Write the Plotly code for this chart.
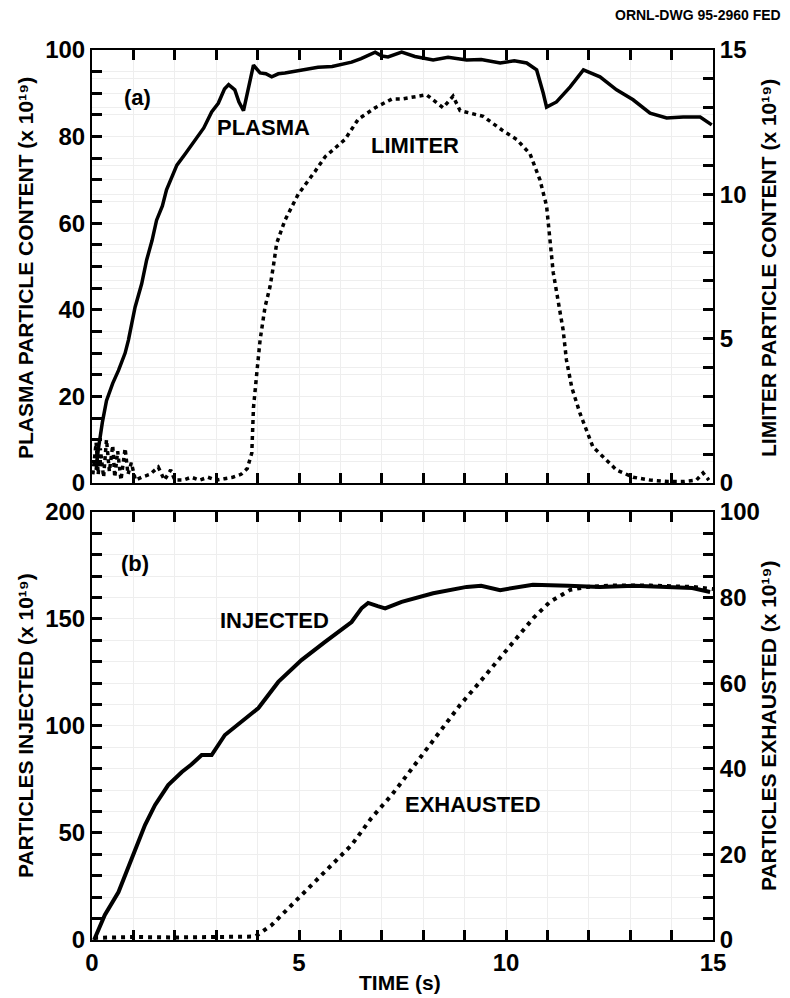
import plotly.graph_objects as go

# ---------------- data ----------------
plasma_t = [0.1, 0.15, 0.25, 0.35, 0.5, 0.64, 0.8, 0.88, 1.04, 1.2, 1.32, 1.45, 1.56, 1.7, 1.8, 1.95,
            2.05, 2.25, 2.4, 2.56, 2.7, 2.89, 3.05, 3.2, 3.3, 3.45, 3.55, 3.66, 3.8, 3.9, 4.06, 4.2,
            4.34, 4.5, 4.66, 5.0, 5.46, 5.8, 6.27, 6.5, 6.84, 7.0, 7.15, 7.48, 7.8, 8.24, 8.6, 9.05,
            9.4, 9.86, 10.2, 10.5, 10.74, 10.9, 10.98, 11.22, 11.55, 11.87, 12.27, 12.67, 13.07,
            13.48, 13.88, 14.28, 14.69, 14.97]
plasma_v = [3, 7.6, 14, 19, 23, 26, 30, 33, 40.6, 46, 51.5, 56, 60.7, 64, 67.7, 71,
            73.4, 76, 78, 80, 82, 85.7, 87.7, 91, 92, 90.8, 88, 86, 92, 96.5, 94.7, 94.5,
            93.8, 94.5, 94.7, 95.3, 96, 96.2, 97.2, 98, 99.5, 98.6, 98.4, 99.5, 98.5, 97.7, 98.3, 97.7,
            97.8, 97, 97.5, 97, 95.4, 90, 86.8, 88, 91.5, 95.4, 93.8, 90.8, 88.5,
            85.4, 84.3, 84.5, 84.5, 82.7]

limiter_t = [0.02, 0.1, 0.15, 0.2, 0.28, 0.35, 0.42, 0.5, 0.55, 0.62, 0.7, 0.8, 0.87, 0.95, 1.05,
             1.2, 1.4, 1.6, 1.75, 1.9, 2.0, 2.2, 2.4, 2.6, 2.8, 3.0, 3.2, 3.4, 3.6, 3.75, 3.86,
             3.9, 3.98, 4.06, 4.18, 4.3, 4.38, 4.46, 4.66, 4.98, 5.39, 5.63, 6.11, 6.43, 6.84,
             7.24, 7.48, 8.08, 8.48, 8.72, 8.89, 9.45, 9.93, 10.26, 10.58, 10.82, 10.98, 11.06,
             11.14, 11.26, 11.38, 11.46, 11.59, 11.79, 12.1, 12.35, 12.67, 13.07, 13.48, 13.9,
             14.3, 14.6, 14.76, 14.9]
limiter_v = [0.3, 1.4, 0.3, 1.2, 0.2, 1.5, 0.4, 1.3, 0.2, 1.1, 0.1, 1.2, 0.3, 0.7, 0.1,
             0.2, 0.3, 0.55, 0.1, 0.45, 0.1, 0.1, 0.2, 0.1, 0.2, 0.1, 0.15, 0.2, 0.3, 0.5, 1.04,
             2.6, 3.8, 4.95, 6.1, 6.8, 7.5, 8.3, 9.1, 10.0, 10.8, 11.3, 11.9, 12.6, 13.0,
             13.3, 13.3, 13.45, 13.0, 13.4, 12.9, 12.7, 12.2, 11.9, 11.4, 10.5, 9.6, 8.4,
             7.3, 6.3, 5.3, 4.26, 3.3, 2.4, 1.25, 0.9, 0.45, 0.2, 0.1, 0.05,
             0.05, 0.1, 0.35, 0.1]

injected_t = [0.05, 0.31, 0.64, 0.96, 1.28, 1.52, 1.84, 2.17, 2.4, 2.65, 2.89, 3.21, 3.61, 4.02,
              4.5, 5.06, 5.63, 6.27, 6.51, 6.67, 6.9, 7.08, 7.48, 8.24, 9.05, 9.4, 9.86, 10.65,
              11.5, 12.27, 13.1, 13.88, 14.5, 14.93]
injected_v = [0, 11.7, 22.4, 38, 53.7, 63, 72.4, 78.5, 82, 86.4, 86.4, 95.8, 101.9, 108.4,
              120.6, 130.8, 139.3, 148.6, 155, 157.5, 156, 155, 158, 162, 165, 165.5, 163.5, 166,
              165.5, 165, 165.5, 165, 164.5, 162.6]

exhausted_t = [0.05, 1, 2, 3, 3.94, 4.34, 4.82, 5.31, 5.79, 6.27, 6.75, 7.24, 7.48, 7.92, 8.41,
               8.89, 9.37, 9.86, 10.26, 10.66, 11.06, 11.55, 11.95, 12.5, 13.5, 14.5, 15]
exhausted_v = [0.5, 0.7, 0.6, 0.7, 0.8, 3.5, 8.2, 12.9, 17.5, 22.2, 28.5, 33.9, 36.9, 42.5, 48.6,
               54.9, 60.3, 65.9, 70.6, 75.2, 79, 81.8, 82.5, 82.8, 82.8, 82.5, 82]

# tick positions (all marks) and which of them carry a label
time_ticks = list(range(0, 16))
time_labels = [0, 5, 10, 15]
plasma_ticks = list(range(0, 101, 5))
plasma_labels = list(range(0, 101, 20))
limiter_ticks = list(range(0, 16))
limiter_labels = [0, 5, 10, 15]
injected_ticks = list(range(0, 201, 10))
injected_labels = list(range(0, 201, 50))
exhausted_ticks = list(range(0, 101, 5))
exhausted_labels = list(range(0, 101, 20))

FONT = "Liberation Sans"
BLK = "black"


def btext(ticks, labels):
    return ["<b>%d</b>" % v if v in labels else "" for v in ticks]


fig = go.Figure()
fig.add_trace(go.Scatter(x=plasma_t, y=plasma_v, mode="lines", xaxis="x", yaxis="y",
                         line=dict(color=BLK, width=3.5), showlegend=False))
fig.add_trace(go.Scatter(x=limiter_t, y=limiter_v, mode="lines", xaxis="x", yaxis="y2",
                         line=dict(color=BLK, width=3.5, dash="4px,4px"), showlegend=False))
fig.add_trace(go.Scatter(x=injected_t, y=injected_v, mode="lines", xaxis="x2", yaxis="y3",
                         line=dict(color=BLK, width=4), showlegend=False))
fig.add_trace(go.Scatter(x=exhausted_t, y=exhausted_v, mode="lines", xaxis="x2", yaxis="y4",
                         line=dict(color=BLK, width=4, dash="4px,5px"), showlegend=False))

tickfont = dict(family=FONT, size=24, color=BLK)


def xax(anchor, show_labels):
    return dict(range=[0, 15], anchor=anchor, showline=True, mirror="ticks", linecolor=BLK,
                linewidth=2, ticks="inside", ticklen=10, tickwidth=3, tickcolor=BLK,
                tickmode="array", tickvals=time_ticks, ticktext=btext(time_ticks, time_labels),
                showticklabels=show_labels, tickfont=tickfont)


def yax(rng, ticks, labels, side, domain=None, overlay=None, anchor=None):
    d = dict(range=rng, side=side, showline=True, linecolor=BLK, linewidth=2,
             ticks="inside", ticklen=10, tickwidth=3, tickcolor=BLK,
             tickmode="array", tickvals=ticks, ticktext=btext(ticks, labels), tickfont=tickfont)
    if domain is not None:
        d["domain"] = domain
    if overlay is not None:
        d["overlaying"] = overlay
    if anchor is not None:
        d["anchor"] = anchor
    return d


top_dom = [0.5135, 1.0]
bot_dom = [0.0, 0.4809]

fig.update_layout(
    template="none",
    width=790, height=998,
    margin=dict(l=92, r=77, t=50, b=58),
    paper_bgcolor="white", plot_bgcolor="white",
    xaxis=xax("y", False),
    xaxis2=xax("y3", True),
    yaxis=yax([0, 100], plasma_ticks, plasma_labels, "left", domain=top_dom, anchor="x"),
    yaxis2=yax([0, 15], limiter_ticks, limiter_labels, "right", overlay="y", anchor="x"),
    yaxis3=yax([0, 200], injected_ticks, injected_labels, "left", domain=bot_dom, anchor="x2"),
    yaxis4=yax([0, 100], exhausted_ticks, exhausted_labels, "right", overlay="y3", anchor="x2"),
)

afont = dict(family=FONT, size=22, color=BLK)
tfont = dict(family=FONT, size=21, color=BLK)
annots = [
    dict(text="<b>(a)</b>", xref="x", yref="y", x=1.1, y=89),
    dict(text="<b>PLASMA</b>", xref="x", yref="y", x=4.15, y=82),
    dict(text="<b>LIMITER</b>", xref="x", yref="y", x=7.8, y=78),
    dict(text="<b>(b)</b>", xref="x2", yref="y3", x=1.04, y=176),
    dict(text="<b>INJECTED</b>", xref="x2", yref="y3", x=4.4, y=149.5),
    dict(text="<b>EXHAUSTED</b>", xref="x2", yref="y3", x=9.2, y=63.5),
]
for a in annots:
    fig.add_annotation(**a, showarrow=False, font=afont, xanchor="center", yanchor="middle")

H = 890.0
W = 621.0


def py(pix):
    return (940 - pix) / H


def px(pix):
    return (pix - 92) / W


titles = [
    ("<b>PLASMA PARTICLE CONTENT (x 10¹⁹)</b>", 25, 268),
    ("<b>LIMITER PARTICLE CONTENT (x 10¹⁹)</b>", 768, 268),
    ("<b>PARTICLES INJECTED (x 10¹⁹)</b>", 25, 726),
    ("<b>PARTICLES EXHAUSTED (x 10¹⁹)</b>", 768, 726),
]
for txt, xx, yy in titles:
    fig.add_annotation(text=txt, xref="paper", yref="paper", x=px(xx), y=py(yy), textangle=-90,
                       showarrow=False, font=tfont, xanchor="center", yanchor="middle")

fig.add_annotation(text="<b>TIME (s)</b>", xref="paper", yref="paper", x=px(400), y=py(983),
                   showarrow=False, font=tfont, xanchor="center", yanchor="middle")
fig.add_annotation(text="<b>ORNL-DWG 95-2960 FED</b>", xref="paper", yref="paper", x=px(783),
                   y=py(15), showarrow=False, font=dict(family=FONT, size=14, color=BLK),
                   xanchor="right", yanchor="middle")

fig.write_html("out.html")
